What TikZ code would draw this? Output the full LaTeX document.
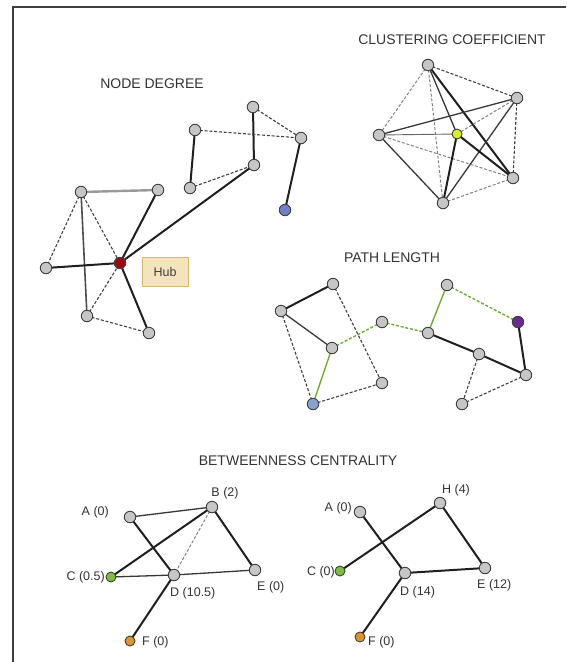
\documentclass[tikz,border=0pt]{standalone}
\usepackage{fontspec}
\setmainfont{Liberation Sans}
\definecolor{hubred}{HTML}{9A0A14}
\definecolor{tanfill}{HTML}{F3E4BE}
\definecolor{tanedge}{HTML}{D9B56E}
\definecolor{pgreen}{HTML}{7DBE3C}
\definecolor{ygreen}{HTML}{D8F020}
\definecolor{porange}{HTML}{D9962A}
\definecolor{pblue}{HTML}{7080C8}
\definecolor{ppurple}{HTML}{6A2A90}
\definecolor{lblue}{HTML}{8AA2CC}
\begin{document}
\begin{tikzpicture}[x=1pt,y=-1pt,
  nd/.style={circle,minimum size=11.5pt,inner sep=0pt,fill=gray!45,draw=black!75,line width=0.9pt},
  cnd/.style={nd,fill=#1},
  thk/.style={line width=2pt,draw=black!88},
  med/.style={line width=1.3pt,draw=black!78},
  thn/.style={line width=0.9pt,draw=black!60},
  dsh/.style={line width=1.1pt,draw=black!75,dash pattern=on 3pt off 1.8pt},
  ldsh/.style={line width=1pt,draw=black!50,dash pattern=on 3pt off 1.8pt},
  gthk/.style={line width=2.4pt,draw=black!40},
  grn/.style={line width=1.4pt,draw=pgreen!90!black},
  gdsh/.style={line width=1.4pt,draw=pgreen!90!black,dash pattern=on 3pt off 1.8pt},
  ttl/.style={font=\fontsize{14}{16}\selectfont,text=black!80},
  lbl/.style={font=\fontsize{12.5}{14}\selectfont,text=black!80,inner sep=1pt}]
\useasboundingbox (0,0) rectangle (566,662);
\draw[line width=2pt,draw=black!75] (13,662) -- (13,7) -- (566,7);

% ---------- NODE DEGREE ----------
\node[ttl] (tnd) at (152,84) {NODE DEGREE};
\coordinate (ntl) at (81,192);
\coordinate (ntr) at (158,190);
\coordinate (nl) at (46,268);
\coordinate (nbl) at (87,316);
\coordinate (nbr) at (149,333);
\coordinate (nt) at (253,107);
\coordinate (nlf) at (195,130);
\coordinate (nrt) at (301,138);
\coordinate (nm) at (254,165);
\coordinate (nb) at (190,188);
\coordinate (hub) at (120,263);
\coordinate (npu) at (285,210);
\node[draw=tanedge,fill=tanfill,line width=1pt,minimum width=46pt,minimum height=29pt,font=\fontsize{12.5}{14}\selectfont,text=black!75] (hubl) at (165,272) {Hub};
\draw[gthk] (ntl) -- (ntr);
\draw[dsh] (ntl) -- (nl);
\draw[med,draw=black!70,line width=1.6pt] (ntl) -- (nbl);
\draw[dsh] (ntl) -- (hub);
\draw[thk] (ntr) -- (hub);
\draw[thk] (nl) -- (hub);
\draw[dsh] (nbl) -- (hub);
\draw[thk] (nbr) -- (hub);
\draw[dsh] (nbl) -- (nbr);
\draw[thk] (hub) -- (nm);
\draw[thk] (nt) -- (nm);
\draw[dsh] (nt) -- (nrt);
\draw[dsh] (nlf) -- (nrt);
\draw[thk] (nlf) -- (nb);
\draw[dsh] (nb) -- (nm);
\draw[thk] (nrt) -- (npu);
\foreach \n in {ntl,ntr,nl,nbl,nbr,nt,nlf,nrt,nm,nb}{\node[nd] (d\n) at (\n) {};}
\node[cnd=hubred] (dhub) at (hub) {};
\node[cnd=pblue] (dnpu) at (npu) {};

% ---------- CLUSTERING COEFFICIENT ----------
\node[ttl] (tcc) at (452,40) {CLUSTERING COEFFICIENT};
\coordinate (ct) at (428,65);
\coordinate (cr) at (517,98);
\coordinate (cl) at (379,135);
\coordinate (cbr) at (513,178);
\coordinate (cb) at (443,203);
\coordinate (cy) at (457,134);
\draw[dsh] (ct) -- (cr);
\draw[ldsh] (ct) -- (cl);
\draw[ldsh] (ct) -- (cb);
\draw[thk] (ct) -- (cbr);
\draw[med] (ct) -- (cy);
\draw[med] (cl) -- (cr);
\draw[med] (cr) -- (cb);
\draw[dsh] (cr) -- (cbr);
\draw[ldsh] (cr) -- (cy);
\draw[thn] (cl) -- (cy);
\draw[ldsh] (cl) -- (cbr);
\draw[med] (cl) -- (cb);
\draw[thk] (cy) -- (cb);
\draw[thk] (cy) -- (cbr);
\draw[ldsh] (cb) -- (cbr);
\foreach \n in {ct,cr,cl,cbr,cb}{\node[nd] (d\n) at (\n) {};}
\node[cnd=ygreen,minimum size=10pt] (dcy) at (cy) {};

% ---------- PATH LENGTH ----------
\node[ttl] (tpl) at (392,258) {PATH LENGTH};
\coordinate (pa) at (333,284);
\coordinate (pb) at (281,311);
\coordinate (pc) at (332,348);
\coordinate (pd) at (313,404);
\coordinate (pe) at (382,383);
\coordinate (pf) at (382,322);
\coordinate (pg) at (428,333);
\coordinate (ph) at (447,285);
\coordinate (pp) at (518,322);
\coordinate (pi) at (479,354);
\coordinate (pj) at (526,375);
\coordinate (pk) at (462,404);
\draw[thk] (pa) -- (pb);
\draw[dsh] (pa) -- (pe);
\draw[med] (pb) -- (pc);
\draw[dsh] (pb) -- (pd);
\draw[grn] (pc) -- (pd);
\draw[gdsh] (pc) -- (pf);
\draw[gdsh] (pf) -- (pg);
\draw[grn] (pg) -- (ph);
\draw[gdsh] (ph) -- (pp);
\draw[dsh] (pd) -- (pe);
\draw[thk] (pg) -- (pi);
\draw[thk] (pi) -- (pj);
\draw[thk] (pp) -- (pj);
\draw[dsh] (pi) -- (pk);
\draw[dsh] (pk) -- (pj);
\foreach \n in {pa,pb,pc,pe,pf,pg,ph,pi,pj,pk}{\node[nd] (d\n) at (\n) {};}
\node[cnd=lblue] (dpd) at (pd) {};
\node[cnd=ppurple] (dpp) at (pp) {};

% ---------- BETWEENNESS CENTRALITY ----------
\node[ttl] (tbc) at (298,461) {BETWEENNESS CENTRALITY};
% left graph
\coordinate (la) at (130,517);
\coordinate (lb) at (212,507);
\coordinate (lc) at (111,577);
\coordinate (ld) at (174,575);
\coordinate (le) at (255,570);
\coordinate (lf) at (130,641);
\draw[med] (la) -- (lb);
\draw[thk] (la) -- (ld);
\draw[thk] (lb) -- (lc);
\draw[ldsh] (lb) -- (ld);
\draw[thk] (lb) -- (le);
\draw[med] (lc) -- (ld);
\draw[med] (ld) -- (le);
\draw[thk] (ld) -- (lf);
\foreach \n in {la,lb,ld,le}{\node[nd] (d\n) at (\n) {};}
\node[cnd=pgreen,minimum size=10pt] (dlc) at (lc) {};
\node[cnd=porange,minimum size=10pt] (dlf) at (lf) {};
\node[lbl,anchor=east] (lal) at (110,512) {A (0)};
\node[lbl] (lbl) at (225,493) {B (2)};
\node[lbl,anchor=east] (lcl) at (106,577) {C (0.5)};
\node[lbl,anchor=west] (ldl) at (169,593) {D (10.5)};
\node[lbl,anchor=west] (lel) at (256,587) {E (0)};
\node[lbl,anchor=west] (lfl) at (141,642) {F (0)};
% right graph
\coordinate (ra) at (360,512);
\coordinate (rh) at (440,503);
\coordinate (rc) at (340,571);
\coordinate (rd) at (405,573);
\coordinate (re) at (485,568);
\coordinate (rf) at (360,637);
\draw[thk] (ra) -- (rd);
\draw[thk] (rc) -- (rh);
\draw[thk] (rh) -- (re);
\draw[thk] (rd) -- (re);
\draw[thk] (rd) -- (rf);
\foreach \n in {ra,rh,rd,re}{\node[nd] (d\n) at (\n) {};}
\node[cnd=pgreen,minimum size=10pt] (drc) at (rc) {};
\node[cnd=porange,minimum size=10pt] (drf) at (rf) {};
\node[lbl,anchor=east] (ral) at (353,508) {A (0)};
\node[lbl] (rhl) at (456,490) {H (4)};
\node[lbl,anchor=east] (rcl) at (336,572) {C (0)};
\node[lbl,anchor=west] (rdl) at (399,592) {D (14)};
\node[lbl,anchor=west] (rel) at (476,585) {E (12)};
\node[lbl,anchor=west] (rfl) at (367,642) {F (0)};
\end{tikzpicture}
\end{document}
